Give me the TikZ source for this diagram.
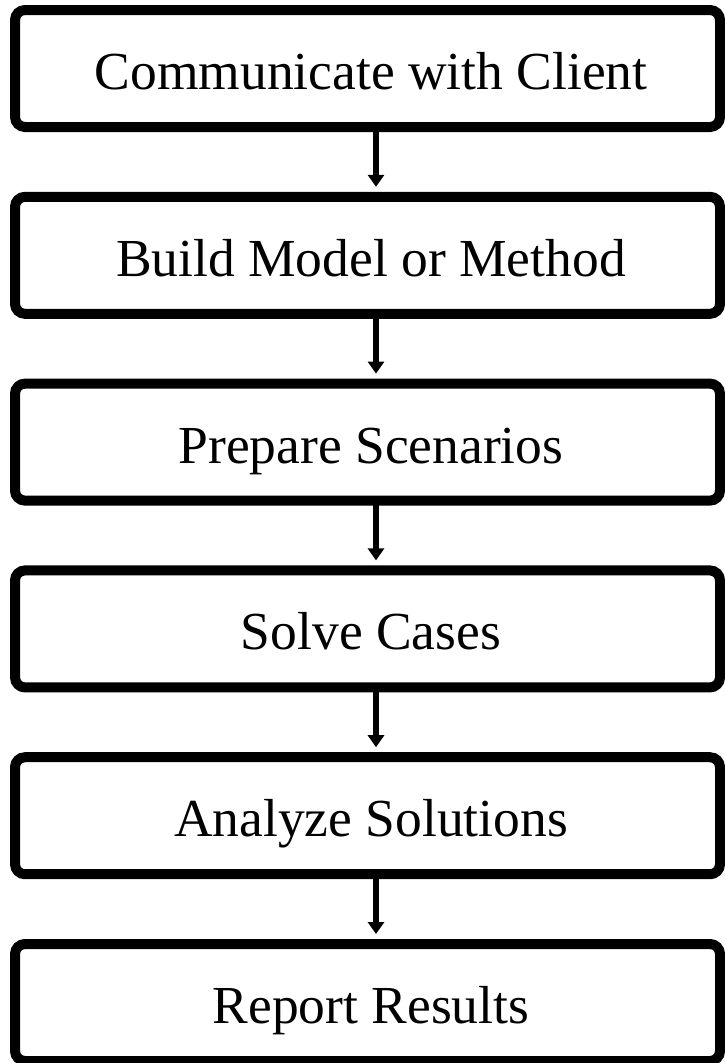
\documentclass[tikz,border=0pt]{standalone}
\usepackage{fontspec}
\setmainfont{Liberation Serif}
\usetikzlibrary{arrows.meta}
\begin{document}
\begin{tikzpicture}[x=1pt, y=-1pt,
  stepbox/.style={draw=black, line width=10pt, rounded corners=10pt,
    minimum width=705pt, minimum height=117pt, inner sep=0pt,
    text height=42pt, text depth=0pt,
    font=\fontsize{53.5}{58}\selectfont,
    execute at begin node=\hspace*{7pt}},
  flow/.style={line width=5.5pt, -{Triangle[width=16pt,length=12pt]},
    shorten <=-1pt, shorten >=5pt}]
\useasboundingbox (0,0) rectangle (725,1063);
\node[stepbox] (b1) at (367.5, 68.5) {Communicate with Client};
\node[stepbox] (b2) at (367.5, 255.3) {Build Model or Method};
\node[stepbox] (b3) at (367.5, 442.1) {Prepare Scenarios};
\node[stepbox] (b4) at (367.5, 628.9) {Solve Cases};
\node[stepbox] (b5) at (367.5, 815.7) {Analyze Solutions};
\node[stepbox] (b6) at (367.5, 1002.5) {Report Results};
\foreach \a/\b in {b1/b2, b2/b3, b3/b4, b4/b5, b5/b6}
  \draw[flow] ([xshift=8.5pt]\a.south) -- ([xshift=8.5pt]\b.north);
\end{tikzpicture}
\end{document}
